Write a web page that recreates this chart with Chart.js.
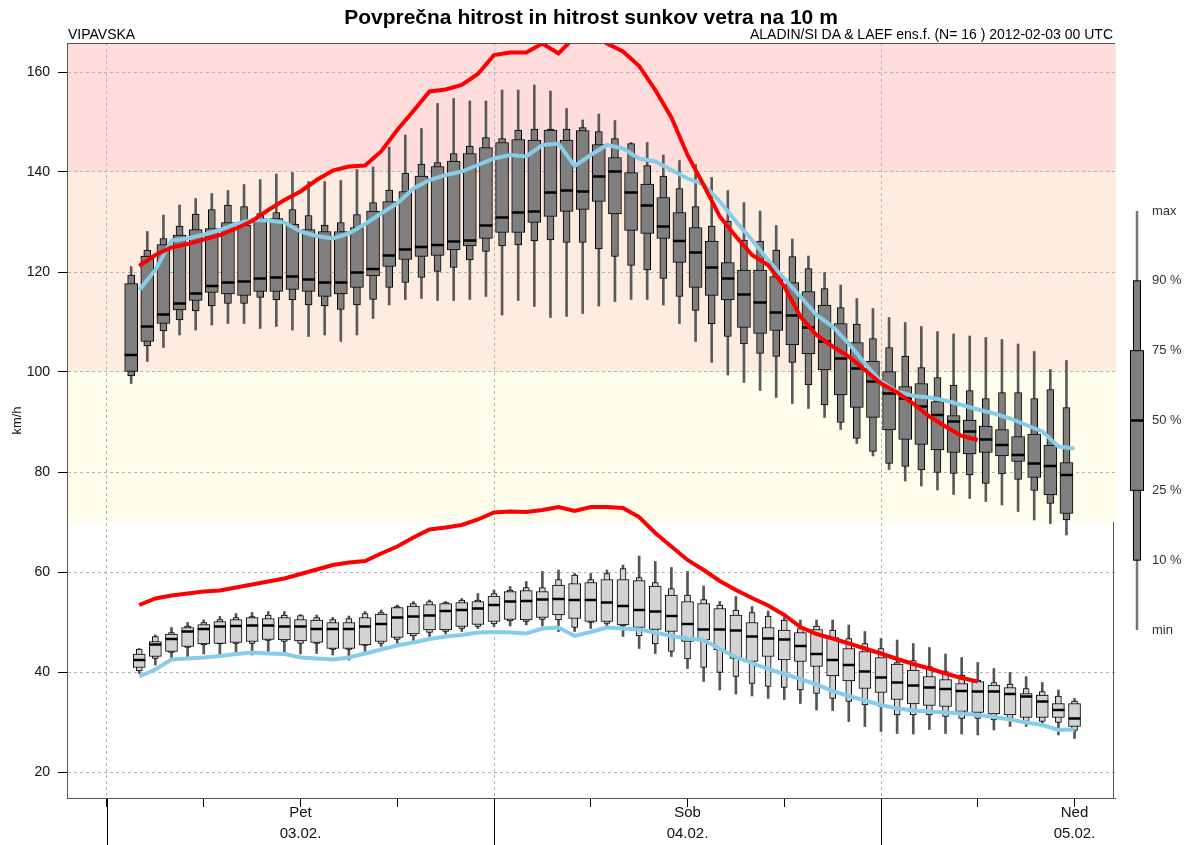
<!DOCTYPE html>
<html>
<head>
<meta charset="utf-8">
<title>Povprečna hitrost in hitrost sunkov vetra na 10 m</title>
<script src="https://cdn.jsdelivr.net/npm/chart.js@4.4.1/dist/chart.umd.min.js"></script>
<style>
  html, body { margin: 0; padding: 0; background: #fff; }
  #wrap { position: relative; width: 1194px; height: 845px; font-family: "Liberation Sans", Arial, sans-serif; }
  #wrap canvas { position: absolute; left: 0; top: 0; }
  .hdr { position: absolute; white-space: nowrap; color: #000; line-height: 1; }
  #title { left: 0; width: 1182px; top: 6px; text-align: center; font-weight: bold; font-size: 21px; }
  #place { left: 68px; top: 27px; font-size: 14px; }
  #model { right: 81px; top: 27px; font-size: 14px; }
</style>
</head>
<body>
<div id="wrap">
  <canvas id="chartCanvas" width="1194" height="845"></canvas>
  <div class="hdr" id="title">Povprečna hitrost in hitrost sunkov vetra na 10 m</div>
  <div class="hdr" id="place">VIPAVSKA</div>
  <div class="hdr" id="model">ALADIN/SI DA &amp; LAEF ens.f. (N= 16 ) 2012-02-03 00 UTC</div>
</div>
<script>
// forecast hour (0 = 03.02. 00 UTC)
const hours = [2, 3, 4, 5, 6, 7, 8, 9, 10, 11, 12, 13, 14, 15, 16, 17, 18, 19, 20, 21,
  22, 23, 24, 25, 26, 27, 28, 29, 30, 31, 32, 33, 34, 35, 36, 37, 38, 39, 40, 41,
  42, 43, 44, 45, 46, 47, 48, 49, 50, 51, 52, 53, 54, 55, 56, 57, 58, 59, 60];

// sunki (gusts) - ensemble percentiles, km/h
const gustMin = [97.7,102.1,104.9,107.4,108.4,109.4,109.7,109.7,108.7,109.1, 108.4,107.1,107.4,106.1,107.4,110.7,113.4,114.5,114.7,114.3,
  114.3,114.5,115.1,111.4,114.3,113.1,110.9,111.1,111.7,113.2, 114.1,114.5,114.5,113.4,109.7,106.1,101.9,99.4,97.9,96.3,
  94.9,93.7,92.7,90.9,88.5,85.7,83.2,80.5,78.2,77.2, 76.4,75.5,74.7,74.1,73.4,72.1,70.4,69.7,67.4];
const gustP10 = [99.2,105.2,108.2,110.4,112.2,113.2,113.7,113.7,114.9,114.4, 114.4,113.4,113.2,112.5,113.4,114.5,116.9,117.9,118.9,120.1,
  120.9,122.4,124.1,125.2,125.4,126.2,126.4,125.9,125.9,124.6, 123.1,121.3,120.4,118.7,115.1,112.3,109.6,107.1,105.6,103.7,
  103.1,101.9,97.4,93.4,89.9,86.7,84.1,81.7,81.1,80.4, 79.9,79.7,79.4,77.7,79.6,78.5,76.3,73.7,70.4];
const gustP25 = [100.1,106.1,109.7,112.4,114.3,115.9,115.6,115.3,116.1,116.1, 116.5,116.1,115.1,115.6,116.9,119.2,121.1,122.5,123.1,123.3,
  124.4,125.2,126.7,127.9,127.9,129.9,131.1,132.1,132.5,134.1, 131.6,128.3,127.7,126.7,121.9,116.9,115.3,114.4,108.9,107.7,
  108.3,105.4,103.6,100.4,95.4,92.9,90.9,88.4,86.5,85.5, 84.4,83.9,83.6,83.9,83.2,82.1,78.9,75.4,71.7];
const gustMed = [103.4,109.1,111.5,113.7,115.7,117.2,117.9,118.1,118.7,118.9, 119.1,118.5,117.9,117.9,119.9,120.6,123.3,124.5,125.0,125.4,
  126.1,126.3,129.3,130.9,131.9,132.1,135.9,136.3,136.1,139.1, 140.1,135.9,133.3,129.1,126.2,123.9,120.9,118.7,115.5,113.9,
  111.9,111.3,108.9,106.1,102.7,100.7,98.1,95.7,94.7,93.1, 91.4,90.1,88.1,86.5,85.4,83.4,81.7,81.2,79.4];
const gustP75 = [117.7,123.2,125.5,127.4,128.5,128.7,129.9,129.4,130.7,130.7, 129.6,128.5,128.1,128.1,128.9,132.2,134.1,136.1,139.2,141.1,
  142.2,143.7,144.9,145.9,146.5,146.4,148.4,146.4,148.3,145.5, 142.9,139.9,137.6,134.9,131.9,128.9,126.2,121.9,120.4,120.4,
  119.1,117.9,116.1,113.4,109.7,105.9,102.2,100.1,97.1,97.7, 94.1,91.3,90.4,89.2,88.5,87.1,87.6,85.4,81.9];
const gustP90 = [119.4,124.4,126.7,129.2,131.6,132.5,133.4,133.1,131.7,131.9, 132.5,131.3,129.4,129.9,131.5,133.9,136.4,139.8,141.6,141.9,
  143.7,145.2,146.9,146.7,148.4,148.6,148.6,148.6,148.9,148.1, 146.7,145.7,141.3,139.2,136.7,133.1,129.2,130.2,126.4,126.2,
  124.4,123.1,120.7,116.7,112.9,109.6,106.7,104.9,103.2,100.9, 98.9,97.4,96.3,94.7,95.9,95.9,94.7,96.5,92.9];
const gustMax = [121.1,128.1,131.4,133.4,134.7,135.7,136.3,137.5,138.5,139.6, 139.9,138.1,138.1,138.3,140.5,141.0,145.0,147.4,148.7,153.7,
  154.7,154.2,154.2,156.4,156.4,157.4,156.2,152.7,150.4,151.6, 150.3,145.9,145.9,143.4,142.3,141.5,138.9,136.3,133.9,132.2,
  129.3,126.6,123.2,119.9,117.4,114.7,112.7,110.9,109.9,109.1, 108.1,107.6,107.2,106.9,106.5,105.6,104.1,100.5,102.3];

// povprecna hitrost (mean wind) - ensemble percentiles, km/h
const windMin = [39.7,41.4,42.7,43.1,43.6,43.6,43.9,43.4,44.1,43.9, 43.6,43.7,43.4,42.4,44.1,45.1,45.7,46.3,47.1,47.6,
  48.1,48.7,49.1,49.2,49.4,49.2,48.1,48.1,48.7,48.9, 47.1,44.7,43.7,43.1,40.7,38.1,36.4,35.6,35.2,34.7,
  34.5,33.7,32.4,32.3,30.1,29.1,28.1,27.7,27.6,28.5, 27.7,27.6,27.4,28.4,29.1,29.1,29.4,27.4,26.7];
const windP10 = [40.2,42.7,43.9,44.9,45.4,45.6,45.7,45.7,46.3,46.1, 45.7,45.7,44.5,44.5,45.3,45.7,46.5,47.2,47.9,48.1,
  48.7,49.1,49.6,50.2,50.1,50.5,50.4,48.9,49.9,49.7, 49.2,47.2,45.6,44.1,42.6,40.9,39.9,39.1,37.7,37.1,
  36.9,36.4,35.7,34.7,34.1,33.4,33.1,31.4,31.4,31.4, 31.1,30.7,30.7,30.4,30.7,30.1,30.1,29.9,28.3];
const windP25 = [40.9,43.1,44.1,45.1,45.6,45.7,45.9,46.1,46.5,46.4, 46.2,45.9,44.7,44.7,45.4,46.1,46.9,47.6,48.4,48.4,
  49.1,49.5,50.1,50.5,50.4,50.9,51.4,50.7,50.1,50.1, 49.4,48.9,48.5,48.1,46.1,46.4,44.4,42.7,42.1,43.1,
  42.4,42.1,41.1,39.2,38.2,36.7,35.9,34.5,33.6,33.3, 33.1,32.1,31.9,31.6,31.4,30.9,30.9,30.9,29.1];
const windMed = [42.4,45.5,46.6,48.1,48.6,49.1,49.2,49.3,49.3,49.1, 49.1,48.6,48.6,48.6,49.1,49.6,50.9,51.1,51.3,52.2,
  52.4,52.7,53.4,54.1,54.2,54.5,54.6,54.4,54.4,53.9, 53.2,52.4,52.1,51.2,49.6,48.5,48.5,48.3,47.1,46.7,
  46.5,45.2,43.6,42.4,41.4,40.1,38.9,37.9,37.3,36.9, 36.6,36.2,36.1,36.1,35.6,35.1,34.1,32.4,30.7];
const windP75 = [43.6,46.1,47.6,48.9,49.5,50.1,50.5,50.9,50.7,50.9, 50.5,50.4,49.9,49.9,50.9,51.6,52.9,53.2,53.5,53.7,
  53.9,54.1,55.2,56.1,56.3,56.1,57.4,57.7,57.9,58.5, 58.5,58.3,57.2,55.4,54.1,53.7,52.7,51.4,49.9,48.9,
  48.4,47.9,48.5,46.9,44.7,44.1,42.9,41.6,40.4,39.1, 38.5,37.7,38.1,37.4,36.9,35.7,35.4,33.7,33.7];
const windP90 = [44.6,47.1,47.9,49.2,49.9,50.5,50.9,51.1,51.4,51.4, 51.3,50.9,50.5,50.7,51.7,51.9,53.1,53.7,54.1,53.9,
  54.4,54.4,55.7,56.4,56.9,56.9,58.5,59.4,58.5,59.7, 60.7,58.9,57.9,56.7,55.4,54.5,53.4,52.4,51.9,51.2,
  50.4,48.7,49.2,48.4,46.7,45.7,44.7,41.9,42.3,41.1, 40.1,39.4,38.4,37.9,37.6,36.7,36.1,35.2,34.2];
const windMax = [44.7,47.4,48.9,49.9,50.4,51.1,51.7,51.9,52.1,52.1, 51.5,51.4,50.9,51.2,52.1,52.4,53.4,54.1,54.4,54.1,
  54.7,55.7,56.4,57.1,58.1,60.1,60.4,59.7,59.7,60.4, 61.4,63.2,62.1,60.9,60.1,57.2,54.1,55.1,53.1,52.2,
  50.9,50.4,50.4,50.4,49.4,48.1,46.7,46.4,45.7,44.9, 43.6,42.9,41.9,40.7,39.9,39.1,37.9,36.4,34.7];

// single-model lines (red and light blue), starting at hour 2
const gustRed = [121.2,123.4,124.9,125.6,126.5,127.4,128.7,130.2,132.4,134.4, 136.1,138.4,140.3,141.1,141.3,144.1,148.4,152.2,156.1,156.5,
  157.4,159.6,163.4,163.9,163.9,165.7,163.7,167.0,167.5,165.7, 164.1,161.2,156.4,150.9,143.4,137.4,131.1,127.1,123.4,121.4,
  117.1,111.1,107.4,105.1,103.1,100.4,97.7,95.9,93.7,91.1, 89.1,87.2,86.4];
const gustBlue = [116.4,120.4,126.3,126.7,127.5,128.4,129.6,130.4,130.3,129.9, 128.1,127.2,126.7,127.7,129.6,131.7,133.7,136.7,138.4,139.4,
  140.1,141.4,142.7,143.4,143.1,145.4,145.7,141.2,143.4,145.4, 144.7,142.7,142.1,140.4,138.7,137.5,134.1,130.1,126.4,122.4,
  118.7,115.1,111.4,109.1,105.7,101.7,98.1,96.1,95.2,94.9, 94.3,93.4,92.5,91.7,90.7,89.4,88.1,85.1,84.7];
const windRed = [53.4,54.7,55.3,55.7,56.1,56.3,56.9,57.5,58.1,58.7, 59.6,60.5,61.4,61.9,62.2,63.7,65.1,66.9,68.5,68.9,
  69.4,70.5,71.9,72.1,72.0,72.4,73.0,72.2,73.0,73.0, 72.8,71.0,67.8,65.1,62.4,60.4,58.2,56.4,54.8,53.3,
  51.4,49.0,47.6,46.7,45.7,44.7,43.7,42.6,41.6,40.7, 39.7,38.8,38.1];
const windBlue = [39.1,40.5,42.5,42.7,42.9,43.2,43.6,43.9,43.7,43.6, 42.9,42.7,42.5,42.9,43.7,44.5,45.3,45.9,46.6,47.1,
  47.4,47.9,48.0,47.9,47.7,48.7,48.9,47.2,48.0,48.9, 48.7,48.5,47.9,47.2,46.7,46.4,44.6,43.0,41.8,40.6,
  39.6,38.6,37.5,36.2,35.2,34.3,33.4,32.7,32.3,32.1, 31.9,31.7,31.4,31.0,30.5,29.9,29.4,28.4,28.5];

// axes
const yTicks = [20, 40, 60, 80, 100, 120, 140, 160];
const xTicks = [0, 6, 12, 18, 24, 30, 36, 42, 48, 54, 60];
const dayStartHours = [0, 24, 48];
const dayLabelHours = [12, 36, 60];
const dayNames = ['Pet', 'Sob', 'Ned'];
const dayDates = ['03.02.', '04.02.', '05.02.'];
const warnLevels = [70, 100, 140];
const legendLabels = ['max', '90 %', '75 %', '50 %', '25 %', '10 %', 'min'];

const FONT = '"Liberation Sans", Arial, sans-serif';
const bandColors = ['#FFFEEC', '#FDECDF', '#FFDDDD'];
const GUST_SHIFT = -0.5;   // gust boxes sit half an hour left of the wind boxes

function rangeBars(lo, hi, shift) {
    return hours.map((h, i) => ({ x: h + shift, y: [lo[i], hi[i]] }));
}
function points(values, shift) {
    return values.map((v, i) => ({ x: hours[i] + shift, y: v }));
}

function boxDatasets(lo, p10, p25, med, p75, p90, hi, shift, fill, wide, narrow, whiskerColor, baseOrder) {
    return [
        { type: 'bar', data: rangeBars(lo, hi, shift), barThickness: 2, backgroundColor: whiskerColor,
          borderWidth: 0, grouped: false, order: baseOrder + 3 },
        { type: 'bar', data: rangeBars(p10, p90, shift), barThickness: narrow, backgroundColor: fill,
          borderColor: '#000', borderWidth: 1, borderSkipped: false, grouped: false, order: baseOrder + 2 },
        { type: 'bar', data: rangeBars(p25, p75, shift), barThickness: wide, backgroundColor: fill,
          borderColor: '#000', borderWidth: 1, borderSkipped: false, grouped: false, order: baseOrder + 1 },
        { type: 'line', data: points(med, shift), showLine: false, pointStyle: 'line',
          pointRadius: wide / 2, pointBorderWidth: 2.5, pointBorderColor: '#000', borderColor: '#000',
          order: baseOrder }
    ];
}

function lineDataset(values, color, order) {
    return { type: 'line', data: points(values, 0), borderColor: color, borderWidth: 4,
        pointRadius: 0, tension: 0, clip: 0, order: order };
}

const bandsPlugin = {
    id: 'bands',
    beforeDraw(chart) {
        const { ctx, chartArea: a, scales: { y } } = chart;
        ctx.save();
        warnLevels.forEach((lvl, i) => {
            const top = i + 1 < warnLevels.length ? y.getPixelForValue(warnLevels[i + 1]) : a.top;
            const bot = y.getPixelForValue(lvl);
            ctx.fillStyle = bandColors[i];
            ctx.fillRect(a.left, top, a.right - a.left + 1, bot - top);
        });
        ctx.restore();
    }
};

const framePlugin = {
    id: 'frame',
    afterDraw(chart) {
        const { ctx, chartArea: a, scales: { x, y } } = chart;
        ctx.save();
        ctx.strokeStyle = '#555';
        ctx.lineWidth = 1;
        ctx.beginPath();
        ctx.moveTo(a.left, a.top + 0.5);
        ctx.lineTo(a.right, a.top + 0.5);
        ctx.moveTo(a.right - 1.5, y.getPixelForValue(warnLevels[0]));
        ctx.lineTo(a.right - 1.5, a.bottom);
        ctx.stroke();

        // long day-boundary ticks under the axis
        ctx.strokeStyle = '#000';
        ctx.beginPath();
        dayStartHours.forEach(h => {
            const px = Math.round(x.getPixelForValue(h)) + 0.5;
            ctx.moveTo(px, a.bottom + 1);
            ctx.lineTo(px, chart.height);
        });
        ctx.stroke();

        // box legend on the right
        const lx = 1137, top = 211, bottom = 630;
        const step = (bottom - top) / (legendLabels.length - 1);
        const ly = legendLabels.map((_, i) => top + i * step);
        ctx.strokeStyle = '#777';
        ctx.lineWidth = 2.5;
        ctx.beginPath();
        ctx.moveTo(lx, ly[0]);
        ctx.lineTo(lx, ly[6]);
        ctx.stroke();
        ctx.fillStyle = '#7f7f7f';
        ctx.strokeStyle = '#000';
        ctx.lineWidth = 1;
        ctx.fillRect(lx - 3.5, ly[1], 7, ly[5] - ly[1]);
        ctx.strokeRect(lx - 3.5, ly[1], 7, ly[5] - ly[1]);
        ctx.fillRect(lx - 6.5, ly[2], 13, ly[4] - ly[2]);
        ctx.strokeRect(lx - 6.5, ly[2], 13, ly[4] - ly[2]);
        ctx.lineWidth = 2.5;
        ctx.beginPath();
        ctx.moveTo(lx - 7, ly[3]);
        ctx.lineTo(lx + 7, ly[3]);
        ctx.stroke();
        ctx.fillStyle = '#333';
        ctx.font = '13px ' + FONT;
        ctx.textBaseline = 'middle';
        ctx.textAlign = 'left';
        legendLabels.forEach((t, i) => ctx.fillText(t, 1152, ly[i]));
        ctx.restore();
    }
};

const datasets = [
    lineDataset(gustRed, '#ff0000', 0),
    lineDataset(gustBlue, '#87cde9', 1),
    lineDataset(windRed, '#ff0000', 0),
    lineDataset(windBlue, '#87cde9', 1),
    ...boxDatasets(gustMin, gustP10, gustP25, gustMed, gustP75, gustP90, gustMax, GUST_SHIFT,
        '#7f7f7f', 13, 7, '#5a5a5a', 10),
    ...boxDatasets(windMin, windP10, windP25, windMed, windP75, windP90, windMax, 0,
        '#d3d3d3', 12, 6, '#555', 20)
];

new Chart(document.getElementById('chartCanvas'), {
    type: 'bar',
    data: { datasets: datasets },
    options: {
        responsive: false,
        animation: false,
        layout: { padding: { top: 43, right: 79, left: 0, bottom: 0 } },
        plugins: { legend: { display: false }, tooltip: { enabled: false }, title: { display: false } },
        scales: {
            x: {
                type: 'linear',
                min: -2.48,
                max: 62.51,
                offset: false,
                afterBuildTicks: s => { s.ticks = xTicks.map(v => ({ value: v })); },
                afterFit: s => { s.height = 47; },
                grid: {
                    offset: false,
                    color: c => (c.tick && dayStartHours.includes(c.tick.value)) ? '#b5b5b5' : 'rgba(0,0,0,0)',
                    tickColor: '#000',
                    tickLength: 9
                },
                border: { display: true, color: '#555', dash: [3, 3] },
                ticks: {
                    autoSkip: false,
                    maxRotation: 0,
                    padding: -4,
                    color: '#111',
                    font: { family: FONT, size: 15, lineHeight: 1.35 },
                    callback: v => {
                        const k = dayLabelHours.indexOf(v);
                        return k < 0 ? '' : [dayNames[k], dayDates[k]];
                    }
                }
            },
            y: {
                type: 'linear',
                min: 14.8,
                max: 165.8,
                afterBuildTicks: s => { s.ticks = yTicks.map(v => ({ value: v })); },
                afterFit: s => { s.width = 67; },
                grid: { color: '#b5b5b5', tickColor: '#000', tickLength: 9 },
                border: { display: true, color: '#555', dash: [3, 3] },
                ticks: { padding: 8, color: '#111', font: { family: FONT, size: 14 } },
                title: { display: true, text: 'km/h', color: '#111', font: { family: FONT, size: 13 },
                    padding: { top: 10, bottom: 0 } }
            }
        }
    },
    plugins: [bandsPlugin, framePlugin]
});
</script>
</body>
</html>
